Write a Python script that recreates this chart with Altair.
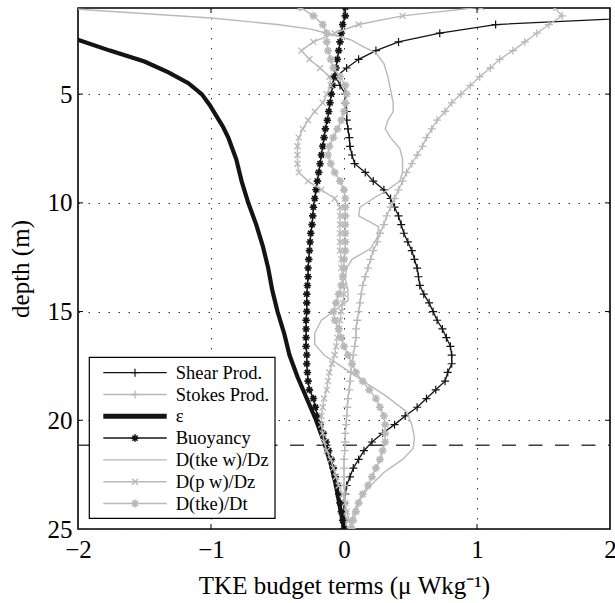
import altair as alt
import pandas as pd

# ---------------- data ----------------
depth_grid = [1.0, 1.4, 1.8, 2.2, 2.6, 3.0, 3.4, 3.8, 4.2, 4.6, 5.0,
              5.4, 5.8, 6.2, 6.6, 7.0, 7.4, 7.8, 8.2, 8.6, 9.0,
              9.4, 9.8, 10.2, 10.6, 11.0, 11.4, 11.8, 12.2, 12.6, 13.0,
              13.4, 13.8, 14.2, 14.6, 15.0, 15.4, 15.8, 16.2, 16.6, 17.0,
              17.4, 17.8, 18.2, 18.6, 19.0, 19.4, 19.8, 20.2, 20.6, 21.0,
              21.4, 21.8, 22.2, 22.6, 23.0, 23.4, 23.8, 24.2, 24.6, 25.0]

shear_prod = [4.0, 2.5, 1.14, 0.72, 0.41, 0.24, 0.11, 0.02, -0.06, -0.03, 0.01,
              0.01, 0.02, 0.02, 0.03, 0.04, 0.045, 0.06, 0.08, 0.16, 0.22,
              0.30, 0.35, 0.38, 0.41, 0.43, 0.45, 0.48, 0.51, 0.53, 0.55,
              0.56, 0.57, 0.60, 0.64, 0.67, 0.70, 0.74, 0.77, 0.80, 0.81,
              0.81, 0.78, 0.76, 0.69, 0.62, 0.55, 0.46, 0.38, 0.29, 0.21,
              0.15, 0.11, 0.07, 0.045, 0.02, 0.01, 0.0, 0.0, 0.0, 0.0]

stokes_prod = [1.58, 1.64, 1.54, 1.45, 1.36, 1.27, 1.17, 1.10, 1.02, 0.95, 0.88,
               0.81, 0.76, 0.70, 0.66, 0.62, 0.59, 0.55, 0.51, 0.47, 0.44,
               0.41, 0.38, 0.35, 0.32, 0.30, 0.27, 0.25, 0.22, 0.20, 0.18,
               0.16, 0.14, 0.13, 0.12, 0.11, 0.10, 0.09, 0.09, 0.08, 0.07,
               0.06, 0.05, 0.045, 0.04, 0.03, 0.025, 0.02, 0.015, 0.01, 0.01,
               0.005, 0.0, 0.0, 0.0, 0.0, 0.005, 0.01, 0.01, 0.015, 0.02]

buoyancy = [0.01, 0.01, -0.01, -0.02, -0.03, -0.04, -0.05, -0.06, -0.075, -0.085, -0.095,
            -0.105, -0.115, -0.125, -0.14, -0.15, -0.16, -0.17, -0.18, -0.19, -0.20,
            -0.21, -0.22, -0.23, -0.235, -0.24, -0.25, -0.255, -0.26, -0.265, -0.27,
            -0.27, -0.275, -0.28, -0.28, -0.28, -0.285, -0.285, -0.285, -0.285, -0.28,
            -0.28, -0.275, -0.27, -0.26, -0.23, -0.215, -0.2, -0.18, -0.155, -0.135,
            -0.115, -0.095, -0.08, -0.065, -0.05, -0.04, -0.03, -0.02, -0.01, 0.0]

d_pw_dz = [1.03, 0.44, 0.11, -0.07, -0.23, -0.32, -0.26, -0.18, -0.11, -0.10, -0.13,
           -0.16, -0.22, -0.27, -0.31, -0.34, -0.35, -0.35, -0.35, -0.34, -0.27,
           -0.17, -0.07, -0.03, -0.03, -0.03, -0.03, -0.03, -0.03, -0.02, -0.02,
           -0.01, 0.0, 0.0, -0.01, -0.02, -0.03, -0.04, -0.05, -0.06, -0.07,
           -0.09, -0.11, -0.12, -0.13, -0.15, -0.16, -0.17, -0.17, -0.16, -0.15,
           -0.13, -0.10, -0.08, -0.06, -0.04, -0.01, 0.01, 0.02, 0.04, 0.05]

d_tke_dt = [-0.33, -0.23, -0.16, -0.13, -0.13, -0.12, -0.10, -0.08, -0.03, 0.01, 0.02,
            0.01, 0.0, -0.02, -0.05, -0.08, -0.11, -0.12, -0.10, -0.07, -0.03,
            0.0, 0.01, 0.01, 0.01, 0.01, 0.01, 0.01, 0.01, 0.0, 0.0,
            -0.01, -0.02, -0.04, -0.06, -0.08, -0.07, -0.04, -0.02, 0.0, 0.03,
            0.06, 0.09, 0.14, 0.19, 0.24, 0.27, 0.30, 0.31, 0.31, 0.31,
            0.29, 0.27, 0.24, 0.21, 0.18, 0.14, 0.11, 0.09, 0.07, 0.06]

eps_depth = [2.0, 2.5, 3.0, 3.5, 4.0, 4.5, 5.0, 5.5, 6.0, 6.5, 7.0, 7.5, 8.0, 8.5, 9.0,
             10.0, 11.0, 12.0, 13.0, 14.0, 15.0, 16.0, 17.0, 18.0, 19.0, 20.0,
             21.0, 22.0, 23.0, 24.0, 25.0]
eps_value = [-2.6, -2.0, -1.76, -1.5, -1.32, -1.17, -1.07, -1.01, -0.96, -0.91, -0.87,
             -0.84, -0.81, -0.79, -0.77, -0.72, -0.66, -0.61, -0.57, -0.54, -0.5,
             -0.45, -0.41, -0.35, -0.28, -0.21, -0.15, -0.1, -0.06, -0.03, 0.0]

tkew_depth = [1.0, 1.1, 1.5, 1.8, 2.0, 2.2, 2.5, 2.8, 3.1, 3.6,
              4.2, 4.8, 5.4, 5.8, 6.2, 6.6, 7.0, 7.5, 8.0, 8.6,
              9.0, 9.4, 9.8, 10.2, 10.6, 11.1, 11.6, 12.1, 12.6, 13.0,
              13.5, 14.0, 14.5, 15.0, 15.4, 16.0, 16.5, 17.0, 17.6, 18.3,
              18.9, 19.6, 20.2, 20.8, 21.3, 21.8, 22.4, 23.0, 23.6, 24.2, 25.0]
tkew_value = [-2.4, -2.0, -1.0, -0.5, -0.26, -0.13, 0.05, 0.14, 0.24, 0.30,
              0.33, 0.35, 0.37, 0.37, 0.33, 0.31, 0.35, 0.42, 0.44, 0.44,
              0.42, 0.33, 0.22, 0.12, 0.11, 0.26, 0.25, 0.2, 0.06, 0.02,
              0.01, 0.03, 0.03, -0.08, -0.17, -0.22, -0.22, -0.15, 0.0, 0.17,
              0.32, 0.47, 0.51, 0.53, 0.52, 0.44, 0.3, 0.2, 0.12, 0.07, 0.05]

mixed_layer_depth = [21.15]

legend_labels = ["Shear Prod.", "Stokes Prod.", "\u03b5", "Buoyancy",
                 "D(tke w)/Dz", "D(p w)/Dz", "D(tke)/Dt"]

x_tick_values = [-2, -1, 0, 1, 2]
y_tick_values = [5, 10, 15, 20, 25]
x_inner_ticks = [-1, 0, 1]
y_inner_ticks = [5, 10, 15, 20]

# ---------------- styling ----------------
W, H = 532, 521
FONT = "Liberation Serif"
GRAY = "#b9b9b9"
BLACK = "#141414"

PLUS = "M-1,0L1,0M0,-1L0,1"
XMARK = "M-0.8,-0.8L0.8,0.8M-0.8,0.8L0.8,-0.8"
STAR = "M-1,0L1,0M0,-1L0,1M-0.7,-0.7L0.7,0.7M-0.7,0.7L0.7,-0.7"

x_scale = alt.Scale(domain=[-2, 2], nice=False, zero=False)
y_scale = alt.Scale(domain=[1.04, 25], reverse=True, nice=False, zero=False)

X_TITLE = "TKE budget terms (\u03bc Wkg\u207b\u00b9)"
Y_TITLE = "depth (m)"

x_axis = alt.Axis(values=x_tick_values, format="d", title=X_TITLE,
                  titleX=W / 2, titleY=64, titleAlign="center", titleBaseline="alphabetic")
y_axis = alt.Axis(values=y_tick_values, format="d", title=Y_TITLE, titleAngle=270,
                  titleX=-50, titleY=H / 2, titleAlign="center", titleBaseline="alphabetic")


def X():
    return alt.X("value:Q", scale=x_scale, axis=x_axis)


def Y():
    return alt.Y("depth:Q", scale=y_scale, axis=y_axis)


def prof(depths, values):
    return pd.DataFrame({"depth": depths, "value": values})


layers = []

# mixed layer depth dashed line
layers.append(
    alt.Chart(pd.DataFrame({"depth": mixed_layer_depth})).mark_rule(
        color="#3c3c3c", strokeWidth=1.6, strokeDash=[14, 12.5]
    ).encode(y=Y(), x=alt.value(0), x2=alt.value(W))
)

series = [
    # (depths, values, color, line width, marker path, marker size, marker stroke)
    (depth_grid, shear_prod, BLACK, 1.3, PLUS, 64, 1.2),
    (depth_grid, stokes_prod, GRAY, 1.4, PLUS, 64, 1.3),
    (eps_depth, eps_value, BLACK, 4.2, None, 0, 0),
    (depth_grid, buoyancy, BLACK, 1.5, STAR, 56, 1.6),
    (tkew_depth, tkew_value, GRAY, 1.4, None, 0, 0),
    (depth_grid, d_pw_dz, GRAY, 1.4, XMARK, 56, 1.3),
    (depth_grid, d_tke_dt, GRAY, 1.4, STAR, 64, 1.7),
]

for d, v, col, lw, shp, sz, msw in series:
    df = prof(d, v)
    layers.append(alt.Chart(df).mark_line(color=col, strokeWidth=lw, clip=True).encode(
        x=X(), y=Y(), order=alt.Order("depth:Q")))
    if shp is not None:
        layers.append(
            alt.Chart(df).mark_point(shape=shp, filled=False, size=sz, strokeWidth=msw,
                                     color=col, opacity=1, clip=True).encode(x=X(), y=Y())
        )

# inward ticks (MATLAB style box ticks)
xt = pd.DataFrame({"value": x_inner_ticks})
yt = pd.DataFrame({"depth": y_inner_ticks})
for y0, y1 in [(H, H - 5), (0, 5)]:
    layers.append(alt.Chart(xt).mark_rule(color="black", strokeWidth=1).encode(
        x=X(), y=alt.value(y0), y2=alt.value(y1)))
for x0, x1 in [(0, 5), (W - 5, W)]:
    layers.append(alt.Chart(yt).mark_rule(color="black", strokeWidth=1).encode(
        y=Y(), x=alt.value(x0), x2=alt.value(x1)))

# legend box (manual, MATLAB style)
LX0, LX1, LY0, LY1 = 11.3, 197, 349.3, 510.3
layers.append(alt.Chart(pd.DataFrame({"k": [0]})).mark_rect(
    fill="white", stroke="black", strokeWidth=1.2).encode(
    x=alt.value(LX0), x2=alt.value(LX1), y=alt.value(LY0), y2=alt.value(LY1)))

row0, step = 364.7, 21.8
for i, (label, s) in enumerate(zip(legend_labels, series)):
    _, _, col, lw, shp, sz, msw = s
    yy = row0 + step * i
    one = pd.DataFrame({"label": [label]})
    layers.append(alt.Chart(one).mark_rule(color=col, strokeWidth=lw + (0.8 if lw > 3 else 0)).encode(
        x=alt.value(25.3), x2=alt.value(88.7), y=alt.value(yy)))
    if shp is not None:
        layers.append(alt.Chart(one).mark_point(shape=shp, filled=False, size=sz, strokeWidth=msw,
                                                color=col, opacity=1).encode(
            x=alt.value(57), y=alt.value(yy)))
    layers.append(alt.Chart(one).mark_text(font=FONT, fontSize=18.5, color="black", align="left",
                                           baseline="middle").encode(
        x=alt.value(97.7), y=alt.value(yy), text=alt.Text("label:N")))

chart = alt.layer(*layers).properties(
    width=W, height=H,
    autosize=alt.AutoSizeParams(type="none"),
    padding={"left": 78, "top": 8, "right": 5, "bottom": 74},
    background="white",
).configure_view(
    stroke="black", strokeWidth=1.6
).configure_axis(
    grid=True, gridDash=[1.5, 8.5], gridColor="#333333", gridWidth=1, gridOpacity=1,
    ticks=False, tickSize=0, domain=False,
    labelFont=FONT, labelFontSize=25, labelColor="black",
    labelFlush=False, labelOverlap=False,
    titleFont=FONT, titleFontSize=25, titleFontWeight="normal", titleColor="black",
).configure_axisX(labelPadding=8).configure_axisY(labelPadding=6)

chart.save("out.html", embed_options={"renderer": "svg", "actions": False})
